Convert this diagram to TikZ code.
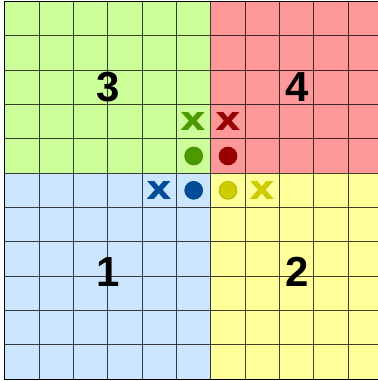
\documentclass[tikz,border=0pt]{standalone}
\usepackage{fontspec}
\setmainfont{Liberation Sans}
\newfontfamily\xfont{DejaVu Sans}
\definecolor{gfill}{RGB}{204,255,153}
\definecolor{rfill}{RGB}{255,153,153}
\definecolor{bfill}{RGB}{204,229,255}
\definecolor{yfill}{RGB}{255,255,153}
\definecolor{gmark}{RGB}{77,153,0}
\definecolor{rmark}{RGB}{153,0,0}
\definecolor{bmark}{RGB}{0,76,153}
\definecolor{ymark}{RGB}{204,204,0}
\tikzset{
  gridline/.style={draw=black,opacity=0.75,line width=1pt},
  border/.style={draw=black,line width=1.5pt},
  bignum/.style={inner sep=0pt,font=\fontsize{42}{42}\selectfont\bfseries},
  xmark/.style={inner sep=0pt,font=\xfont\fontsize{33}{33}\selectfont\bfseries,xscale=1.2},
  dotmark/.style={circle,inner sep=0pt,minimum size=18pt,line width=0.6pt}
}
\begin{document}
\begin{tikzpicture}[x=1pt,y=-1pt]
\useasboundingbox (0,0) rectangle (378,381);
\def\s{34.36}
\begin{scope}
\clip (0,0) rectangle (378,381);
\fill[gfill] (4.7,1.3) rectangle ++(6*\s,5*\s);
\fill[rfill] (4.7+6*\s,1.3) rectangle ++(5*\s,5*\s);
\fill[bfill] (4.7,1.3+5*\s) rectangle ++(6*\s,6*\s);
\fill[yfill] (4.7+6*\s,1.3+5*\s) rectangle ++(5*\s,6*\s);
\foreach \i in {1,...,10} {
  \draw[gridline] (4.7+\i*\s,1.3) -- ++(0,11*\s);
  \draw[gridline] (4.7,1.3+\i*\s) -- ++(11*\s,0);
}
\draw[border] (4.7+11*\s,1.3) -- (4.7,1.3) -- (4.7,1.3+11*\s) -- (4.7+11*\s,1.3+11*\s);
\end{scope}
\node[bignum] (n3) at (107.8,87) {3};
\node[bignum] (n4) at (296.8,87) {4};
\node[bignum] (n1) at (107.8,272) {1};
\node[bignum] (n2) at (296.8,272) {2};
\node[xmark,text=gmark] (gx) at (193.7,121.6) {x};
\node[xmark,text=rmark] (rx) at (228.0,121.6) {x};
\node[dotmark,fill=gmark,draw=gmark!85!black] (gd) at (193.7,156.0) {};
\node[dotmark,fill=rmark,draw=rmark!85!black] (rd) at (228.0,156.0) {};
\node[xmark,text=bmark] (bx) at (159.3,190.3) {x};
\node[dotmark,fill=bmark,draw=bmark!85!black] (bd) at (193.7,190.3) {};
\node[dotmark,fill=ymark,draw=ymark!85!black] (yd) at (228.0,190.3) {};
\node[xmark,text=ymark] (yx) at (262.4,190.3) {x};
\end{tikzpicture}
\end{document}
